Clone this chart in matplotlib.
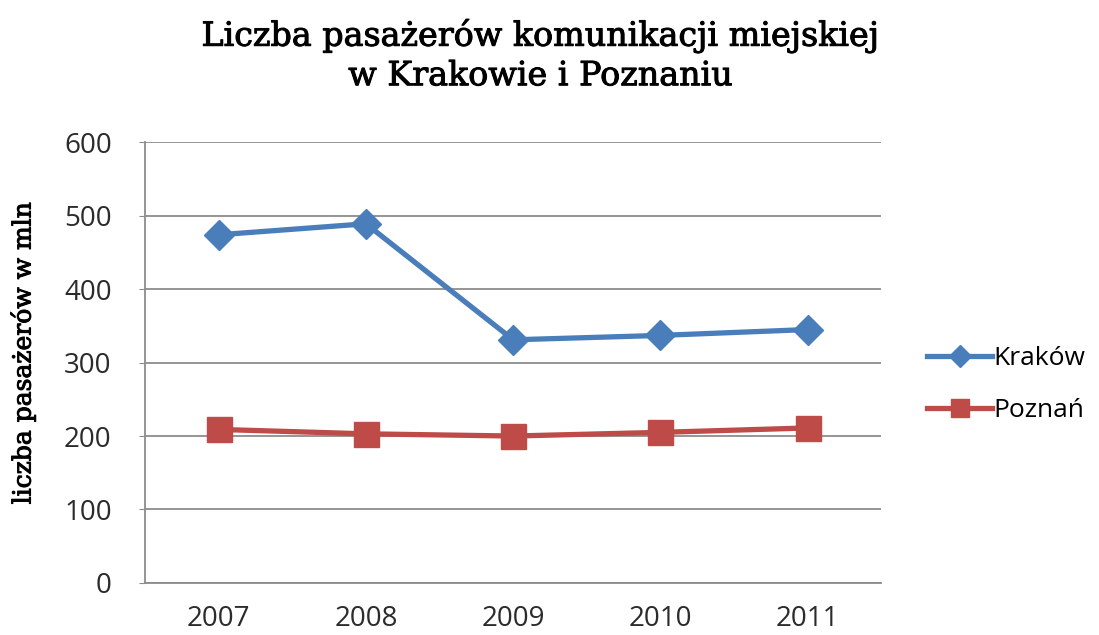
import matplotlib.pyplot as plt
import matplotlib.patheffects as pe

# dane z wykresu
lata = ["2007", "2008", "2009", "2010", "2011"]
krakow = [474, 489, 331, 337, 345]
poznan = [209, 203, 200, 205, 211]
y_ticks = [0, 100, 200, 300, 400, 500, 600]

fig = plt.figure(figsize=(10.99, 6.35), dpi=100)
ax = fig.add_axes([0.132, 0.082, 0.670, 0.694])

x = list(range(len(lata)))
ax.plot(x, krakow, color="#4A7EBB", lw=3.8, marker="D", markersize=15,
        label="Kraków", zorder=3)
ax.plot(x, poznan, color="#BE4B48", lw=3.8, marker="s", markersize=18,
        label="Poznań", zorder=3)

ax.set_xlim(-0.5, len(lata) - 0.5)
ax.set_ylim(0, 600)
ax.set_yticks(y_ticks)
ax.set_xticks(x)
ax.set_xticklabels(lata)
ax.yaxis.grid(True, color="#8C8C8C", lw=1.3)
ax.set_axisbelow(True)

for s in ["top", "right"]:
    ax.spines[s].set_visible(False)
for s in ["left", "bottom"]:
    ax.spines[s].set_color("#8C8C8C")
    ax.spines[s].set_linewidth(1.3)

ax.tick_params(axis="y", length=4, color="#8C8C8C", pad=20, labelsize=20,
               labelcolor="#2b2b2b")
ax.tick_params(axis="x", length=0, pad=16, labelsize=20, labelcolor="#2b2b2b")
for lab in ax.get_xticklabels() + ax.get_yticklabels():
    lab.set_family("Open Sans")

# troche grubszy szeryf, jak w oryginale
gruby = [pe.withStroke(linewidth=0.7, foreground="black")]

fig.text(0.021, 0.444, "liczba pasażerów w mln", rotation=90, ha="center",
         va="center", family="DejaVu Serif", fontsize=18, path_effects=gruby)

fig.text(0.492, 0.913, "Liczba pasażerów komunikacji miejskiej\nw Krakowie i Poznaniu",
         ha="center", va="center", family="DejaVu Serif", fontsize=24,
         linespacing=1.3, path_effects=gruby)

leg = ax.legend(loc="center left", bbox_to_anchor=(1.03, 0.45), frameon=False,
                prop={"family": "Open Sans", "size": 19}, handlelength=2.45,
                handletextpad=0.05, labelspacing=1.05, markerscale=0.75)

plt.savefig("out.png", dpi=100)
